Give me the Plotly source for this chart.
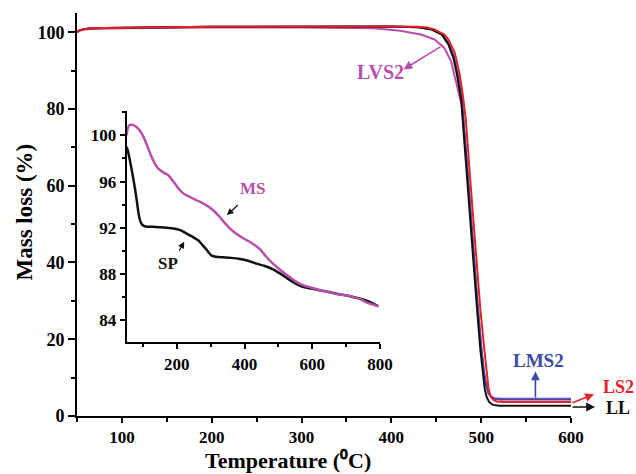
import plotly.graph_objects as go

# ---------------- main TGA data ----------------
ll_t = [50, 53, 58, 65, 80, 100, 150, 200, 300, 400, 430, 445, 456, 463.5, 469, 473, 477.7, 482, 486, 490.7, 495, 499, 502, 504, 506, 509, 513, 520, 600]
ll_m = [100.0, 100.5, 100.8, 101.0, 101.1, 101.2, 101.3, 101.4, 101.5, 101.5, 101.3, 100.7, 99.4, 96.8, 93.3, 89.0, 82.4, 69.0, 56.0, 40.6, 29.0, 17.5, 10.5, 7.0, 5.0, 3.6, 2.9, 2.7, 2.65]

ls2_t = [50, 53, 58, 65, 80, 100, 150, 200, 300, 400, 430, 440, 448, 454, 459, 463, 466.5, 470, 472, 474, 476, 479.5, 483, 487, 491, 495, 499, 503, 506, 508, 510, 513, 517, 525, 600]
ls2_m = [100.0, 100.5, 100.8, 101.0, 101.1, 101.2, 101.3, 101.4, 101.5, 101.5, 101.4, 101.2, 100.7, 100.1, 99.4, 98.3, 96.8, 95.0, 93.3, 91.5, 89.0, 83.7, 77.0, 64.0, 51.5, 39.5, 28.0, 18.5, 11.5, 7.5, 5.5, 4.3, 3.8, 3.65, 3.65]

lms2_t = [50, 53, 58, 65, 80, 100, 150, 200, 300, 400, 430, 446, 457, 464.5, 470, 474, 478.7, 483, 487, 491.7, 496, 500, 503, 505.5, 508, 511, 515, 522, 600]
lms2_m = [100.0, 100.5, 100.8, 101.0, 101.1, 101.2, 101.3, 101.4, 101.5, 101.5, 101.3, 100.7, 99.4, 96.8, 93.3, 89.0, 82.4, 69.0, 56.0, 40.6, 29.0, 18.0, 11.5, 8.0, 6.0, 4.9, 4.45, 4.3, 4.3]

lvs2_t = [50, 53, 58, 65, 100, 200, 300, 380, 410, 433, 448, 459, 466.5, 472, 475.8, 478.7, 483, 487, 491.7, 496, 500, 503, 505.5, 508, 511, 515, 522, 600]
lvs2_m = [100.0, 100.4, 100.7, 100.85, 101.0, 101.2, 101.2, 101.0, 100.4, 99.4, 98.1, 95.9, 92.4, 87.2, 83.0, 80.5, 69.0, 56.0, 40.6, 29.0, 18.0, 11.5, 8.2, 6.2, 5.1, 4.65, 4.5, 4.5]

# ---------------- inset data ----------------
ms_t = [52, 55, 61, 70, 82, 92, 102, 114, 126, 136, 146, 160, 175, 190, 205, 218, 229, 250, 269, 290, 308, 325, 342, 355, 366, 380, 396, 415, 435, 450, 464, 484, 504, 528, 552, 576, 601, 630, 659, 690, 718, 740, 756, 775, 795]
ms_m = [100.0, 100.6, 100.9, 100.9, 100.7, 100.35, 99.85, 99.0, 98.1, 97.5, 97.1, 96.8, 96.55, 96.0, 95.4, 95.0, 94.8, 94.5, 94.25, 93.9, 93.5, 93.0, 92.4, 92.0, 91.7, 91.4, 91.1, 90.8, 90.4, 90.0, 89.5, 88.9, 88.4, 87.85, 87.35, 87.0, 86.8, 86.55, 86.35, 86.2, 86.05, 85.85, 85.6, 85.4, 85.2]

sp_t = [52, 56, 63, 70, 77, 82, 87, 92, 97, 104, 112, 130, 151, 170, 190, 210, 229, 248, 264, 276, 288, 296, 303, 315, 337, 360, 387, 410, 435, 460, 484, 510, 533, 552, 572, 596, 621, 650, 679, 708, 736, 760, 780, 795]
sp_m = [99.0, 98.6, 97.6, 96.5, 95.3, 94.3, 93.25, 92.6, 92.3, 92.15, 92.1, 92.1, 92.05, 92.0, 91.95, 91.8, 91.5, 91.2, 90.9, 90.5, 90.1, 89.8, 89.6, 89.5, 89.45, 89.4, 89.3, 89.15, 88.9, 88.7, 88.4, 87.95, 87.5, 87.15, 86.9, 86.75, 86.6, 86.45, 86.25, 86.1, 85.9, 85.7, 85.45, 85.2]

main_x_ticks = [100, 200, 300, 400, 500, 600]
main_y_ticks = [0, 20, 40, 60, 80, 100]
inset_x_ticks = [200, 400, 600, 800]
inset_y_ticks = [84, 88, 92, 96, 100]

BLACK = "#111111"
RED = "#E8202A"
BLUE = "#3A4AA6"
MAG = "#B64FAE"
FONT = "Liberation Serif"

fig = go.Figure()

fig.add_trace(go.Scatter(x=lvs2_t, y=lvs2_m, mode="lines", line=dict(color=MAG, width=2), name="LVS2"))
fig.add_trace(go.Scatter(x=lms2_t, y=lms2_m, mode="lines", line=dict(color=BLUE, width=2), name="LMS2"))
fig.add_trace(go.Scatter(x=ll_t, y=ll_m, mode="lines", line=dict(color=BLACK, width=2), name="LL"))
fig.add_trace(go.Scatter(x=ls2_t, y=ls2_m, mode="lines", line=dict(color=RED, width=2), name="LS2"))

fig.add_trace(go.Scatter(x=sp_t, y=sp_m, mode="lines", line=dict(color=BLACK, width=2.5, shape="spline", smoothing=0.6),
                         xaxis="x2", yaxis="y2", name="SP"))
fig.add_trace(go.Scatter(x=ms_t, y=ms_m, mode="lines", line=dict(color=MAG, width=2.5, shape="spline", smoothing=0.6),
                         xaxis="x2", yaxis="y2", name="MS"))

def axis_common(size):
    return dict(showline=True, linecolor="black", linewidth=2, ticks="outside", tickcolor="black",
                tickwidth=2, showgrid=False, zeroline=False, mirror=False,
                tickfont=dict(family=FONT, size=size, color="black", weight="bold"))

fig.update_layout(
    width=636, height=474,
    margin=dict(l=77, r=65, t=13, b=58),
    paper_bgcolor="white", plot_bgcolor="white",
    showlegend=False,
    xaxis=dict(range=[50, 600], tickvals=main_x_ticks, ticklen=5,
               minor=dict(dtick=50, tick0=0, ticks="outside", ticklen=4, tickcolor="black", tickwidth=2),
               **axis_common(17)),
    yaxis=dict(range=[0, 105], tickvals=main_y_ticks, ticklen=7,
               minor=dict(dtick=10, tick0=0, ticks="outside", ticklen=4, tickcolor="black", tickwidth=2),
               **axis_common(18)),
    xaxis2=dict(domain=[0.1006, 0.6134], anchor="y2", range=[52, 800], tickvals=inset_x_ticks, ticklen=5,
                minor=dict(dtick=100, tick0=0, ticks="outside", ticklen=3, tickcolor="black", tickwidth=2),
                **axis_common(17)),
    yaxis2=dict(domain=[0.183, 0.7566], anchor="x2", range=[82.1, 102.1], tickvals=inset_y_ticks, ticklen=5,
                minor=dict(dtick=2, tick0=0, ticks="outside", ticklen=3, tickcolor="black", tickwidth=2),
                **axis_common(17)),
)

def label(text, x, y, color, xref="x", yref="y", size=18, angle=0):
    fig.add_annotation(text=text, x=x, y=y, xref=xref, yref=yref, showarrow=False,
                       xanchor="center", yanchor="middle", textangle=angle,
                       font=dict(family=FONT, size=size, color=color, weight="bold"))

def arrow(x0, y0, x1, y1, color, xref="x", yref="y", width=1.6):
    fig.add_annotation(text="", x=x1, y=y1, ax=x0, ay=y0, xref=xref, yref=yref, axref=xref, ayref=yref,
                       showarrow=True, arrowhead=2, arrowsize=1.1, arrowwidth=width, arrowcolor=color)

def paper_arrow(x1, y1, dx, dy, color, width=1.6):
    # head at paper position (x1, y1); tail offset in pixels
    fig.add_annotation(text="", x=x1, y=y1, xref="paper", yref="paper", axref="pixel", ayref="pixel",
                       ax=dx, ay=dy, showarrow=True, arrowhead=2, arrowsize=1.1, arrowwidth=width,
                       arrowcolor=color)

# main labels
label("LVS2", 388, 89.5, MAG, size=20)
arrow(456.2, 96.4, 413.5, 90.3, MAG)
label("LMS2", 564.2, 14.4, BLUE, size=19)
arrow(560.4, 4.4, 560.4, 11.6, BLUE)
# labels beyond the plot's right edge in paper coordinates
label("LS2", (618 - 77) / 494, (415.7 - 387) / 402.7, RED, xref="paper", yref="paper", size=18)
paper_arrow((594 - 77) / 494, (415.7 - 394) / 402.7, -23, 9, RED)
label("LL", (618 - 77) / 494, (415.7 - 408) / 402.7, BLACK, xref="paper", yref="paper", size=18)
paper_arrow((595 - 77) / 494, (415.7 - 406.7) / 402.7, -24, 0, BLACK)

# inset labels
label("MS", 426, 95.4, MAG, xref="x2", yref="y2", size=17)
arrow(384.7, 94.1, 348, 93.1, BLACK, xref="x2", yref="y2", width=1.2)
label("SP", 175, 88.9, BLACK, xref="x2", yref="y2", size=17)
arrow(204.7, 89.9, 222, 90.8, BLACK, xref="x2", yref="y2", width=1.2)

# axis titles
label("Temperature (\u2070C)", (288 - 77) / 494, (415.7 - 460) / 402.7, "black",
      xref="paper", yref="paper", size=22)
label("Mass loss (%)", (24 - 77) / 494, 0.505, "black", xref="paper", yref="paper", size=23, angle=-90)

fig.write_html("out.html")
